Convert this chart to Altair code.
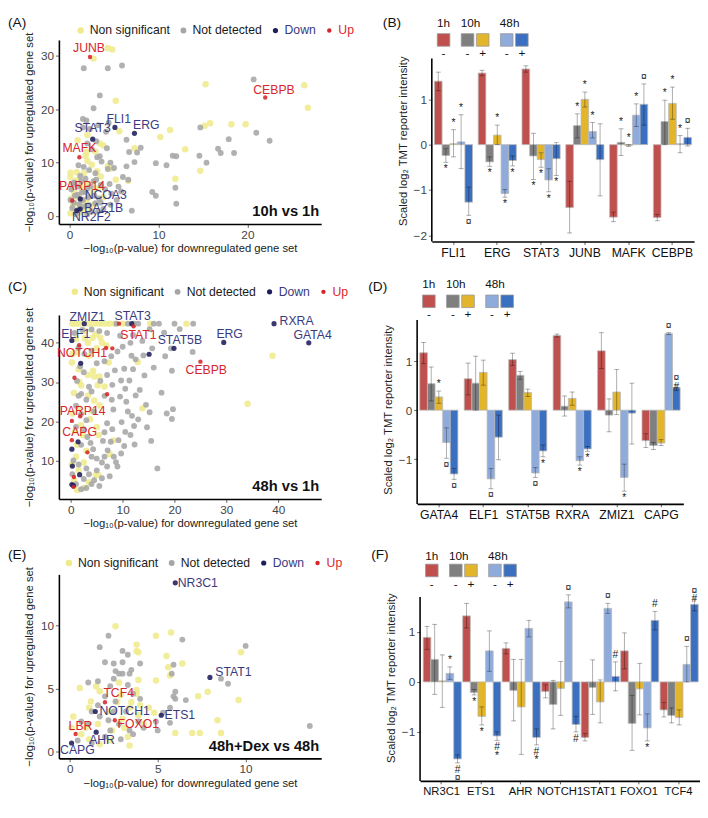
import altair as alt
import pandas as pd

FONT = "Liberation Sans"

# ---------------- categories / styles ----------------
CATS = ["Non significant", "Not detected", "Down", "Up"]
CAT_COLORS = ["#efeb8c", "#a6a6a6", "#1e1e5c", "#d7262b"]
CAT_SIZES = [44, 20, 50, 50]
DOWN_TXT = "#3a3a80"
UP_TXT = "#d7262b"
XTITLE = "−log₁₀(p-value) for downregulated gene set"
YTITLE = "−log₁₀(p-value) for upregulated gene set"

COND = ["1h -", "10h -", "10h +", "48h -", "48h +"]
COND_COLORS = ["#c0504d", "#7f7f7f", "#e3b52b", "#8eabdc", "#3b6fc0"]
TIME_GROUP = ["1h", "10h", "10h", "48h", "48h"]
SIGN = ["-", "-", "+", "-", "+"]

# ---------------- Panel A: 10h vs 1h ----------------
A_yel_x = [4.3, 4.8, 2.7, 15.3, 26.4, 26.8, 5.2, 15.8, 15.2, 18.2, 19.8, 11.3, 10.2, 5.6, 0.9, 2.0, 3.4, 3.8, 7.3, 13.0,
           14.7, 11.9, 6.6, 5.2, 4.3, 1.8, 2.0, 1.6, 0.1, 0.1, 0.8, 2.5, 3.1, 3.5, 2.2, 1.2, 0.5, 1.0, 0.4, 1.8,
           2.6, 3.2, 2.3, 1.5, 0.1, 0.8, 1.9, 2.9, 4.7, 3.8, 0.3, 1.4, 2.0, 0.6, 1.1, 2.8, 0.2, 1.6]
A_yel_y = [31.5, 31.2, 29.5, 24.7, 24.5, 20.3, 21.6, 17.4, 16.9, 17.2, 17.2, 16.1, 14.8, 15.9, 14.2, 15.2, 13.6, 13.2, 12.7, 12.5,
           8.5, 7.0, 6.6, 6.8, 9.3, 11.3, 10.3, 8.0, 8.1, 7.3, 8.2, 9.6, 8.4, 7.4, 6.0, 5.6, 4.5, 3.5, 2.0, 2.6,
           4.3, 5.2, 1.4, 0.6, 0.5, 6.7, 12.0, 12.1, 8.9, 3.5, 5.8, 4.8, 3.2, 1.0, 2.1, 2.2, 3.3, 1.5]
A_grey_x = [1.6, 4.3, 5.9, 20.7, 22.5, 21.0, 14.7, 16.7, 17.0, 18.5, 17.9, 14.6, 15.4, 12.0, 11.6, 10.9, 9.7, 11.9, 12.0, 9.3,
            9.7, 7.6, 8.0, 6.7, 6.4, 6.4, 7.3, 6.6, 7.0, 3.4, 2.7, 1.5, 1.9, 3.2, 4.4, 4.1, 2.3, 1.5, 2.5, 3.4,
            3.1, 4.2, 4.6, 4.3, 5.0, 2.9, 2.2, 1.6, 1.0, 1.8, 2.7, 3.5, 4.0, 4.7, 5.3, 5.8, 4.6, 3.8, 2.9, 2.1,
            1.4, 0.9, 0.5, 0.2, 0.6, 0.3, 0.7, 1.7, 2.5, 3.3, 1.3, 2.0, 0.1, 1.1, 4.5, 5.5, 6.0, 3.0, 2.0, 3.6,
            0.5, 1.0, 1.5, 2.2, 2.8, 3.5, 1.8, 0.9, 2.4, 3.0, 1.2, 0.4, 2.0, 3.2]
A_grey_y = [27.7, 27.7, 28.2, 25.6, 14.1, 15.6, 16.6, 12.6, 11.8, 11.8, 14.4, 11.3, 10.0, 11.2, 11.3, 9.5, 9.9, 5.3, 2.3, 4.5,
            3.8, 11.9, 12.8, 12.0, 14.3, 9.3, 10.1, 6.8, 1.0, 22.6, 20.2, 18.2, 17.9, 17.0, 17.5, 15.8, 16.3, 16.6, 12.5, 11.2,
            11.0, 12.7, 10.0, 8.8, 9.0, 8.0, 8.6, 9.2, 9.5, 7.0, 6.5, 5.8, 5.0, 4.2, 3.0, 4.6, 2.1, 1.3, 2.4, 3.5,
            4.4, 5.5, 6.3, 5.0, 3.8, 1.5, 0.3, 1.8, 0.8, 3.3, 6.5, 5.2, 3.0, 2.2, 6.0, 5.5, 7.3, 14.0, 13.6, 10.2,
            2.5, 1.2, 3.0, 2.0, 3.8, 2.5, 4.5, 4.0, 5.5, 6.8, 7.5, 6.0, 0.3, 0.8]
A_down_name = ["FLI1", "ERG", "STAT3", "NCOA3", "BAZ1B", "NR2F2"]
A_down_x = [5.1, 7.3, 2.6, 1.2, 1.2, 0.8]
A_down_y = [16.6, 15.5, 14.4, 3.2, 1.3, 1.0]
A_up_name = ["JUNB", "CEBPB", "MAFK", "PARP14"]
A_up_x = [2.3, 22.0, 1.1, 0.3]
A_up_y = [29.8, 22.2, 11.0, 2.9]

# ---------------- Panel C: 48h vs 1h ----------------
C_yel_x = [0.3, 1.0, 1.8, 3.5, 4.5, 5.5, 6.5, 7.5, 8.5, 10.0, 15.3, 22.3, 1.0, 2.7, 4.2, 5.7, 6.0, 3.3, 5.0, 6.9,
           0.3, 1.2, 3.5, 7.3, 12.9, 0.2, 1.5, 4.3, 3.3, 4.5, 5.5, 2.0, 5.2, 6.5, 0.6, 3.3, 4.5, 5.5, 1.5, 4.0,
           13.8, 34.1, 38.9, 0.3, 2.0, 3.7, 5.0, 2.3, 5.4, 1.2, 3.0, 8.2, 7.5, 1.0, 0.2, 2.5, 1.5, 4.8, 5.3, 3.5,
           2.5, 1.2, 0.6, 2.8, 4.8, 1.6, 0.8]
C_yel_y = [44.9, 44.9, 44.9, 44.9, 44.9, 44.9, 44.9, 44.9, 44.9, 44.9, 44.9, 44.9, 41.0, 41.2, 41.3, 41.3, 40.0, 40.0, 38.6, 39.3,
           37.2, 37.6, 36.7, 35.0, 35.1, 35.0, 33.3, 32.9, 31.8, 31.4, 31.4, 29.1, 29.2, 28.9, 27.2, 26.5, 25.3, 24.1, 23.4, 22.6,
           23.3, 24.5, 36.7, 22.0, 19.0, 20.5, 18.5, 16.5, 16.5, 14.0, 12.5, 15.1, 11.6, 11.0, 9.0, 9.5, 7.5, 6.3, 6.3, 4.5,
           3.0, 2.5, 5.0, 43.0, 42.2, 30.0, 17.5]
C_grey_x = [8.8, 11.0, 12.2, 13.0, 16.0, 17.0, 20.0, 23.6, 21.0, 15.2, 18.0, 12.0, 7.0, 9.5, 11.5, 13.8, 10.0, 15.7, 19.3, 23.5,
            9.0, 11.7, 14.0, 18.2, 7.8, 12.5, 6.5, 16.0, 19.5, 10.3, 12.0, 8.5, 14.2, 7.0, 9.7, 5.7, 11.3, 8.0, 10.5, 13.3,
            17.5, 12.5, 6.5, 9.5, 7.9, 10.7, 14.5, 11.0, 8.2, 15.2, 18.5, 19.7, 19.5, 11.8, 13.0, 7.0, 9.8, 12.2, 14.7, 8.0,
            6.5, 10.5, 11.5, 9.2, 7.7, 6.2, 15.5, 12.3, 16.7, 10.3, 9.7, 8.3, 7.1, 8.7, 9.0, 6.0, 5.0, 4.3, 3.8, 3.2,
            2.5, 3.0, 2.0, 1.0, 3.0, 2.0, 3.5, 1.2, 2.5, 1.8, 2.6, 1.5, 0.7, 2.2, 4.0, 5.5, 4.0, 5.0, 4.0, 1.5,
            4.5, 1.0, 2.0, 4.0, 0.5, 3.0, 5.0, 6.0, 4.0, 3.0, 2.0, 1.0, 2.5, 0.3, 1.5, 3.5, 7.0, 7.5, 5.5, 4.5, 6.5]
C_grey_y = [44.9, 44.9, 44.9, 44.9, 44.9, 44.9, 44.9, 44.9, 43.5, 43.5, 42.6, 42.0, 42.5, 41.8, 40.0, 40.5, 39.0, 38.6, 38.6, 37.7,
            37.8, 36.7, 36.8, 36.6, 36.6, 35.8, 35.3, 33.7, 32.9, 33.4, 33.3, 33.0, 31.7, 31.8, 30.4, 30.3, 30.4, 29.3, 28.3, 28.0,
            27.3, 26.6, 26.5, 26.3, 25.5, 25.0, 24.2, 22.5, 23.0, 22.3, 22.0, 23.1, 20.6, 21.4, 20.5, 19.5, 19.8, 18.8, 18.5, 18.0,
            17.2, 17.3, 16.5, 15.2, 14.8, 15.0, 15.0, 14.1, 8.0, 13.7, 11.8, 11.0, 12.6, 9.6, 8.5, 9.5, 10.5, 12.9, 14.5, 16.0,
            18.0, 20.3, 21.9, 24.0, 25.5, 27.0, 28.8, 30.3, 32.5, 34.0, 37.2, 38.7, 42.5, 43.3, 43.4, 43.0, 38.0, 34.8, 27.6, 26.5,
            22.5, 18.6, 14.0, 11.0, 10.0, 8.0, 7.5, 5.5, 4.0, 3.0, 2.7, 4.0, 5.3, 6.5, 9.0, 6.5, 8.5, 6.0, 3.5, 5.0, 11.0]
C_down_name = ["ZMIZ1", "ELF1", "STAT3", "STAT5B", "ERG", "RXRA", "GATA4", "", "", "", "", "", "", "", ""]
C_down_x = [2.6, 0.2, 11.75, 19.9, 29.5, 39.2, 45.9, 15.1, 1.9, 1.4, 0.2, 0.3, 1.7, 0.2, 0.5]
C_down_y = [44.9, 40.6, 44.9, 38.6, 40.1, 44.9, 40.0, 37.1, 34.8, 14.8, 12.9, 8.6, 6.4, 3.9, 3.6]
C_up_name = ["STAT1", "NOTCH1", "CEBPB", "PARP14", "CAPG", "", "", "", "", "", "", "", "", ""]
C_up_x = [12.1, 1.6, 25.0, 0.2, 0.2, 9.3, 6.8, 8.0, 0.7, 7.0, 1.8, 3.2, 0.6, 0.5]
C_up_y = [44.2, 39.4, 35.2, 20.1, 15.2, 44.9, 38.7, 38.6, 31.1, 26.9, 21.3, 12.1, 5.8, 3.3]

# ---------------- Panel E: 48h+Dex vs 48h ----------------
E_yel_x = [2.6, 4.9, 5.76, 3.8, 3.8, 3.9, 5.5, 9.74, 6.4, 5.6, 5.7, 4.9, 3.9, 2.8, 0.57, 1.7, 3.8, 3.8, 7.84, 7.3,
           9.6, 3.5, 2.7, 3.4, 4.5, 1.1, 8.4, 6.0, 6.96, 7.4, 8.6, 3.3, 1.7, 2.3, 4.0, 2.9, 1.2, 0.1, 0.65, 1.6,
           3.0, 2.2, 3.9, 3.1, 4.2, 1.1, 0.2, 2.4, 4.8, 3.4, 1.5, 0.9]
E_yel_y = [9.95, 9.2, 9.46, 8.5, 8.0, 7.9, 7.6, 7.9, 7.0, 6.7, 6.05, 5.65, 5.7, 5.5, 5.06, 4.8, 4.6, 4.9, 4.76, 4.4,
           4.1, 3.95, 3.95, 3.5, 3.5, 3.5, 2.5, 1.5, 1.5, 1.5, 1.5, 1.2, 0.6, 0.9, 3.7, 4.5, 4.0, 1.9, 1.4, 2.2,
           2.6, 3.2, 2.9, 1.9, 2.2, 1.0, 2.8, 1.7, 3.1, 0.5, 5.2, 1.9]
E_grey_x = [2.2, 1.7, 6.4, 10.0, 3.0, 3.3, 3.0, 2.0, 2.5, 2.6, 3.5, 2.8, 3.4, 4.0, 2.5, 3.0, 1.05, 1.6, 2.3, 3.3,
            5.9, 5.8, 8.6, 9.0, 6.0, 6.0, 6.6, 5.7, 5.3, 5.7, 5.9, 4.2, 3.6, 4.9, 13.65, 0.45, 1.05, 1.6, 2.2, 2.8,
            3.2, 2.0, 1.25, 2.3, 3.4, 0.65, 1.7, 3.9, 2.6, 4.0, 2.0, 1.25, 2.9, 5.0, 2.5, 3.6]
E_grey_y = [9.2, 8.3, 8.9, 8.4, 8.0, 7.7, 7.1, 7.1, 7.0, 6.4, 6.5, 6.2, 6.2, 7.0, 5.8, 6.2, 5.5, 5.6, 5.2, 5.3,
            6.9, 6.2, 5.8, 5.4, 4.76, 4.2, 4.1, 3.5, 3.1, 2.3, 4.4, 1.9, 1.4, 2.4, 2.05, 0.9, 2.2, 3.7, 2.5, 2.2,
            3.2, 1.2, 0.7, 1.7, 1.7, 2.4, 2.8, 2.4, 4.0, 4.2, 4.4, 3.2, 1.0, 1.7, 3.2, 4.6]
E_down_name = ["NR3C1", "STAT1", "ETS1", "NOTCH1", "AHR", "CAPG"]
E_down_x = [6.0, 7.97, 5.2, 1.45, 1.5, 0.1]
E_down_y = [13.4, 5.9, 2.9, 3.2, 1.56, 0.7]
E_up_name = ["TCF4", "FOXO1", "LBR"]
E_up_x = [2.0, 2.56, 0.33]
E_up_y = [3.93, 2.5, 1.41]

# ---------------- Bar panels (values per gene: 1h-, 10h-, 10h+, 48h-, 48h+) ----------------
B_genes = ["FLI1", "ERG", "STAT3", "JUNB", "MAFK", "CEBPB"]
B_val = [[1.40, -0.24, 0.02, 0.06, -1.27], [1.58, -0.38, 0.21, -1.08, -0.35], [1.67, -0.25, -0.33, -0.78, -0.31],
         [-1.39, 0.42, 1.00, 0.29, -0.33], [-1.60, 0.05, -0.02, 0.65, 0.89], [-1.61, 0.51, 0.91, 0.02, 0.16]]
B_lo = [[1.19, -0.39, -0.27, -0.53, -1.56], [1.52, -0.48, 0.0, -1.16, -0.47], [1.60, -0.77, -0.50, -1.04, -0.68],
        [-1.95, 0.15, 0.83, 0.15, -1.13], [-1.70, -0.24, -0.04, 0.40, 0.43], [-1.68, 0.0, 0.56, -0.18, -0.03]]
B_hi = [[1.60, -0.09, 0.33, 0.66, -0.94], [1.64, -0.27, 0.43, -0.99, -0.25], [1.74, 0.25, -0.18, -0.53, 0.05],
        [-0.81, 0.68, 1.16, 0.49, 0.46], [-1.49, 0.35, 0.0, 0.90, 1.34], [-1.54, 0.98, 1.27, 0.20, 0.36]]
B_mark = [["", "*", "*", "*", "¤"], ["", "*", "*", "*", "*"], ["", "*", "*", "*", "*"],
          ["", "*", "*", "*", ""], ["", "*", "*", "*", "¤"], ["", "*", "*", "*", "¤"]]

D_genes = ["GATA4", "ELF1", "STAT5B", "RXRA", "ZMIZ1", "CAPG"]
D_val = [[1.17, 0.54, 0.27, -0.66, -1.30], [0.64, 0.55, 0.77, -1.40, -0.55], [1.03, 0.71, 0.36, -1.28, -0.83],
         [1.52, 0.08, 0.24, -1.03, -0.79], [1.21, -0.10, 0.37, -1.37, -0.06], [-0.62, -0.72, -0.67, 1.56, 0.46]]
D_lo = [[0.95, 0.19, 0.14, -0.98, -1.41], [0.31, 0.0, 0.51, -1.60, -1.01], [0.91, 0.63, 0.28, -1.37, -0.95],
        [1.49, -0.12, 0.10, -1.12, -0.84], [0.85, -0.44, -0.09, -1.65, -0.69], [-0.76, -0.80, -0.72, 1.54, 0.40]]
D_hi = [[1.38, 0.88, 0.39, -0.36, -1.19], [0.96, 1.10, 1.02, -1.19, -0.10], [1.16, 0.79, 0.43, -1.17, -0.71],
        [1.55, 0.29, 0.37, -0.95, -0.74], [1.58, 0.23, 0.83, -1.10, 0.55], [-0.48, -0.66, -0.60, 1.58, 0.51]]
D_mark = [["", "", "*", "¤", "¤"], ["", "", "", "¤", ""], ["", "", "", "¤", "*"],
          ["", "", "", "*", "*"], ["", "", "", "*", ""], ["", "", "", "¤", "¤\n#"]]

F_genes = ["NR3C1", "ETS1", "AHR", "NOTCH1", "STAT1", "FOXO1", "TCF4"]
F_val = [[0.89, 0.45, 0.02, 0.17, -1.54], [1.32, -0.21, -0.69, 0.62, -1.08], [0.67, -0.17, -0.50, 1.07, -1.11],
         [-0.19, -0.45, -0.13, 1.60, -0.85], [-1.11, -0.11, -0.40, 1.47, 0.11], [0.62, -0.83, -0.14, -0.92, 1.23],
         [-0.56, -0.67, -0.71, 0.35, 1.55]]
F_lo = [[0.65, -0.25, -0.51, 0.05, -1.62], [1.08, -0.26, -0.86, 0.21, -1.17], [0.56, -0.78, -1.45, 0.90, -1.26],
        [-0.32, -0.94, -0.67, 1.48, -1.00], [-1.18, -0.65, -0.82, 1.37, -0.18], [0.26, -1.37, -0.66, -1.18, 1.04],
        [-0.70, -0.82, -0.86, 0.0, 1.42]]
F_hi = [[1.11, 1.15, 0.54, 0.30, -1.46], [1.57, -0.15, -0.50, 1.02, -1.00], [0.78, 0.45, 0.45, 1.23, -0.94],
        [-0.06, 0.03, 0.41, 1.74, -0.69], [-1.03, 0.44, 0.04, 1.57, 0.40], [0.98, -0.27, 0.37, -0.64, 1.41],
        [-0.41, -0.52, -0.56, 0.71, 1.68]]
F_mark = [["", "", "", "*", "#\n¤"], ["", "*", "*", "", "#\n*"], ["", "", "", "", "#\n*"],
          ["", "", "", "¤", "#"], ["", "", "", "¤", "#"], ["", "", "", "*", "#"], ["", "", "", "¤", "¤\n#"]]

# ---------------- label offsets (styling, px) ----------------
A_LABEL_OFF = {"JUNB": (-1, -9), "CEBPB": (9, -8), "FLI1": (4, -9), "ERG": (12, -8), "STAT3": (0, -11),
               "MAFK": (0, -9), "PARP14": (10, -15), "NCOA3": (26, -4), "BAZ1B": (24, -1), "NR2F2": (15, 7)}
C_LABEL_OFF = {"ZMIZ1": (3, -7), "ELF1": (4, -7), "STAT3": (1, -8), "STAT5B": (6, -8), "ERG": (6, -9),
               "RXRA": (23, -3), "GATA4": (4, -8), "STAT1": (5, 9), "NOTCH1": (3, 8), "CEBPB": (6, 9),
               "PARP14": (11, -10), "CAPG": (8, -8)}
E_LABEL_OFF = {"NR3C1": (23, 0), "STAT1": (24, -5), "ETS1": (19, 0), "NOTCH1": (30, 0), "AHR": (6, 8),
               "CAPG": (6, 7), "TCF4": (14, -9), "FOXO1": (24, 4), "LBR": (5, -8)}


def txt(s, x, y, **kw):
    return alt.Chart(pd.DataFrame({"t": [s]})).mark_text(**kw).encode(
        x=alt.value(x), y=alt.value(y), text="t:N")


def scatter_panel(letter, title, yx, yy, gx, gy, dn, dx_, dy_, un, ux, uy, offs,
                  xdom, ydom, xticks, yticks, W, H, letter_xy, leg_xy):
    rows = []
    for x, y in zip(yx, yy):
        rows.append(dict(x=x, y=y, cat="Non significant", name=""))
    for x, y in zip(gx, gy):
        rows.append(dict(x=x, y=y, cat="Not detected", name=""))
    for n, x, y in zip(dn, dx_, dy_):
        rows.append(dict(x=x, y=y, cat="Down", name=n))
    for n, x, y in zip(un, ux, uy):
        rows.append(dict(x=x, y=y, cat="Up", name=n))
    df = pd.DataFrame(rows)

    X = alt.X("x:Q", scale=alt.Scale(domain=xdom, nice=False, zero=False),
              axis=alt.Axis(values=xticks, title=XTITLE, titlePadding=3))
    Y = alt.Y("y:Q", scale=alt.Scale(domain=ydom, nice=False, zero=False),
              axis=alt.Axis(values=yticks, title=YTITLE, titlePadding=6))
    leg = alt.Legend(orient="none", legendX=leg_xy[0], legendY=leg_xy[1], direction="horizontal",
                     title=None, labelFontSize=12.5, labelFont=FONT, symbolOpacity=1,
                     columnPadding=7, labelOffset=3, symbolStrokeWidth=0, symbolType="circle",
                     labelColor={"expr": "datum.label == 'Down' ? '%s' : (datum.label == 'Up' ? '%s' : '#1a1a1a')"
                                         % (DOWN_TXT, UP_TXT)})
    pts = alt.Chart(df).mark_circle(opacity=0.88).encode(
        X, Y,
        color=alt.Color("cat:N", scale=alt.Scale(domain=CATS, range=CAT_COLORS), legend=leg),
        size=alt.Size("cat:N", scale=alt.Scale(domain=CATS, range=CAT_SIZES), legend=leg),
    )
    layers = [pts]
    names_down = set(dn)
    for name, (ox, oy) in offs.items():
        col = DOWN_TXT if name in names_down else UP_TXT
        layers.append(
            alt.Chart(df).transform_filter(alt.datum.name == name).mark_text(
                dx=ox, dy=oy, fontSize=12.5, color=col, align="center", baseline="middle"
            ).encode(X, Y, text="name:N")
        )
    layers.append(txt(letter, letter_xy[0], letter_xy[1], align="left", baseline="top", fontSize=14, color="#111"))
    layers.append(txt(title, W - 2, H - 5, align="right", baseline="bottom", fontSize=15,
                      fontWeight="bold", color="#111"))
    return alt.layer(*layers).properties(width=W, height=H)


def bar_panel(letter, genes, vals, los, his, marks, ydom, yticks, W, H, head, letter_xy, leg_y, pad, xlab=12.5):
    """H is the visible axis height; `head` extra px of empty plot area sit above it."""
    rows = []
    for g, gene in enumerate(genes):
        for c, cond in enumerate(COND):
            v = vals[g][c]
            rows.append(dict(gene=gene, cond=cond, val=v, lo=los[g][c], hi=his[g][c],
                             mk=marks[g][c], up=v >= -0.03))
    df = pd.DataFrame(rows)
    per_px = (ydom[1] - ydom[0]) / H
    ytop = ydom[1] + head * per_px
    X = alt.X("gene:N", scale=alt.Scale(domain=genes, paddingInner=pad[0], paddingOuter=pad[1]),
              axis=alt.Axis(title=None, labelAngle=0, labelColor="#111", labelFontSize=xlab, tickSize=3))
    XO = alt.XOffset("cond:N", scale=alt.Scale(domain=COND, paddingInner=0, paddingOuter=0))
    ys = alt.Scale(domain=[ydom[0], ytop], nice=False)
    ya = alt.Axis(values=yticks, title="Scaled log₂ TMT reporter intensity", titlePadding=5, domain=False)

    bars = alt.Chart(df).mark_bar(stroke="#b8b8b8", strokeWidth=0.8).encode(
        X, XO, alt.Y("val:Q", scale=ys, axis=ya),
        color=alt.Color("cond:N", scale=alt.Scale(domain=COND, range=COND_COLORS), legend=None))
    err = alt.Chart(df).mark_rule(color="black", opacity=0.32, strokeWidth=1).encode(
        X, XO, alt.Y("lo:Q", scale=ys, axis=ya), y2="hi:Q")
    cap_lo = alt.Chart(df).mark_tick(color="black", opacity=0.32, size=5, thickness=1, orient="horizontal").encode(
        X, XO, alt.Y("lo:Q", scale=ys, axis=ya))
    cap_hi = alt.Chart(df).mark_tick(color="black", opacity=0.32, size=5, thickness=1, orient="horizontal").encode(
        X, XO, alt.Y("hi:Q", scale=ys, axis=ya))
    mk_up = alt.Chart(df).transform_filter((alt.datum.mk != "") & alt.datum.up).mark_text(
        baseline="bottom", dy=-2, fontSize=10.5, lineBreak="\n", lineHeight=8.5, color="#222", fill="#222").encode(
        X, XO, alt.Y("hi:Q", scale=ys, axis=ya), text="mk:N")
    mk_dn = alt.Chart(df).transform_filter((alt.datum.mk != "") & (~alt.datum.up)).mark_text(
        baseline="top", dy=2, fontSize=10.5, lineBreak="\n", lineHeight=8.5, color="#222", fill="#222").encode(
        X, XO, alt.Y("lo:Q", scale=ys, axis=ya), text="mk:N")
    # visible y-axis line only over the data range
    yline = alt.Chart(pd.DataFrame({"a": [0]})).mark_rule(color="black", strokeWidth=1.6).encode(
        x=alt.value(0), y=alt.YDatum(ydom[0], scale=ys, axis=ya), y2=alt.Y2Datum(ydom[1]))
    layers = [bars, err, cap_lo, cap_hi, mk_up, mk_dn, yline]

    # custom condition legend above the panel
    step, gap, start = 15.5, 9, 12
    groups = []
    for i in range(len(COND)):
        if TIME_GROUP[i] not in groups:
            groups.append(TIME_GROUP[i])
        gi = groups.index(TIME_GROUP[i])
        cx = start + i * step + gi * gap
        layers.append(alt.Chart(pd.DataFrame({"c": [COND[i]]})).mark_square(
            size=165, opacity=1, stroke="#9a9a9a", strokeWidth=0.8, color=COND_COLORS[i]).encode(
            x=alt.value(cx), y=alt.value(leg_y[1])))
        layers.append(txt(SIGN[i], cx, leg_y[2], align="center", baseline="middle", fontSize=12, color="#111"))
        if TIME_GROUP.index(TIME_GROUP[i]) == i:
            n_in = TIME_GROUP.count(TIME_GROUP[i])
            layers.append(txt(TIME_GROUP[i], cx + (3 if n_in > 1 else 0), leg_y[0], align="center",
                              baseline="middle", fontSize=12, color="#111"))
    layers.append(txt(letter, letter_xy[0], letter_xy[1], align="left", baseline="top", fontSize=14, color="#111"))
    return alt.layer(*layers).properties(width=W, height=H + head)


SH = 188  # scatter plot height
pA = scatter_panel("(A)", "10h vs 1h", A_yel_x, A_yel_y, A_grey_x, A_grey_y,
                   A_down_name, A_down_x, A_down_y, A_up_name, A_up_x, A_up_y, A_LABEL_OFF,
                   [-1.2, 28.3], [-1.5, 33], [0, 10, 20], [0, 10, 20, 30], 268, SH, (-52, -24), (16, -16))
pC = scatter_panel("(C)", "48h vs 1h", C_yel_x, C_yel_y, C_grey_x, C_grey_y,
                   C_down_name, C_down_x, C_down_y, C_up_name, C_up_x, C_up_y, C_LABEL_OFF,
                   [-2.3, 48.3], [0.2, 47.1], [0, 10, 20, 30, 40], [10, 20, 30, 40], 268, SH, (-52, -36), (10, -30))
pE = scatter_panel("(E)", "48h+Dex vs 48h", E_yel_x, E_yel_y, E_grey_x, E_grey_y,
                   E_down_name, E_down_x, E_down_y, E_up_name, E_up_x, E_up_y, E_LABEL_OFF,
                   [-0.62, 14.3], [-0.52, 14.07], [0, 5, 10], [0, 5, 10], 268, SH, (-52, -27), (4, -18))

pB = bar_panel("(B)", B_genes, B_val, B_lo, B_hi, B_mark, [-2.14, 1.9], [-2, -1, 0, 1], 268, 187, 19,
               (-50, -24), (-17, 0, 13), (0.13, 0.06))
pD = bar_panel("(D)", D_genes, D_val, D_lo, D_hi, D_mark, [-1.91, 1.84], [-1, 0, 1], 272, 188, 5,
               (-50, -36), (-32, -14, -1), (0.13, 0.06))
pF = bar_panel("(F)", F_genes, F_val, F_lo, F_hi, F_mark, [-1.98, 1.70], [-1, 0, 1], 286, 188, 23,
               (-50, -27), (-19, -4, 10), (0.07, 0.08), xlab=11.5)

IND = dict(color="independent", size="independent")
row1 = alt.hconcat(pA, pB, spacing=29).resolve_scale(**IND)
row2 = alt.hconcat(pC, pD, spacing=20).resolve_scale(**IND)
row3 = alt.hconcat(pE, pF, spacing=29).resolve_scale(**IND)

chart = alt.vconcat(row1, row2, row3, spacing=19).resolve_scale(**IND).properties(padding=0).configure_view(
    stroke=None
).configure_axis(
    grid=False, domainColor="#000", domainWidth=1.6, tickColor="#666", tickSize=3.5,
    labelFont=FONT, titleFont=FONT, labelFontSize=12, labelColor="#444", labelPadding=2,
    titleFontSize=11.5, titleFontWeight="normal", titleColor="#222"
).configure_text(font=FONT).configure_legend(labelFont=FONT)

chart.save("out.html", embed_options={"renderer": "svg", "actions": False})
